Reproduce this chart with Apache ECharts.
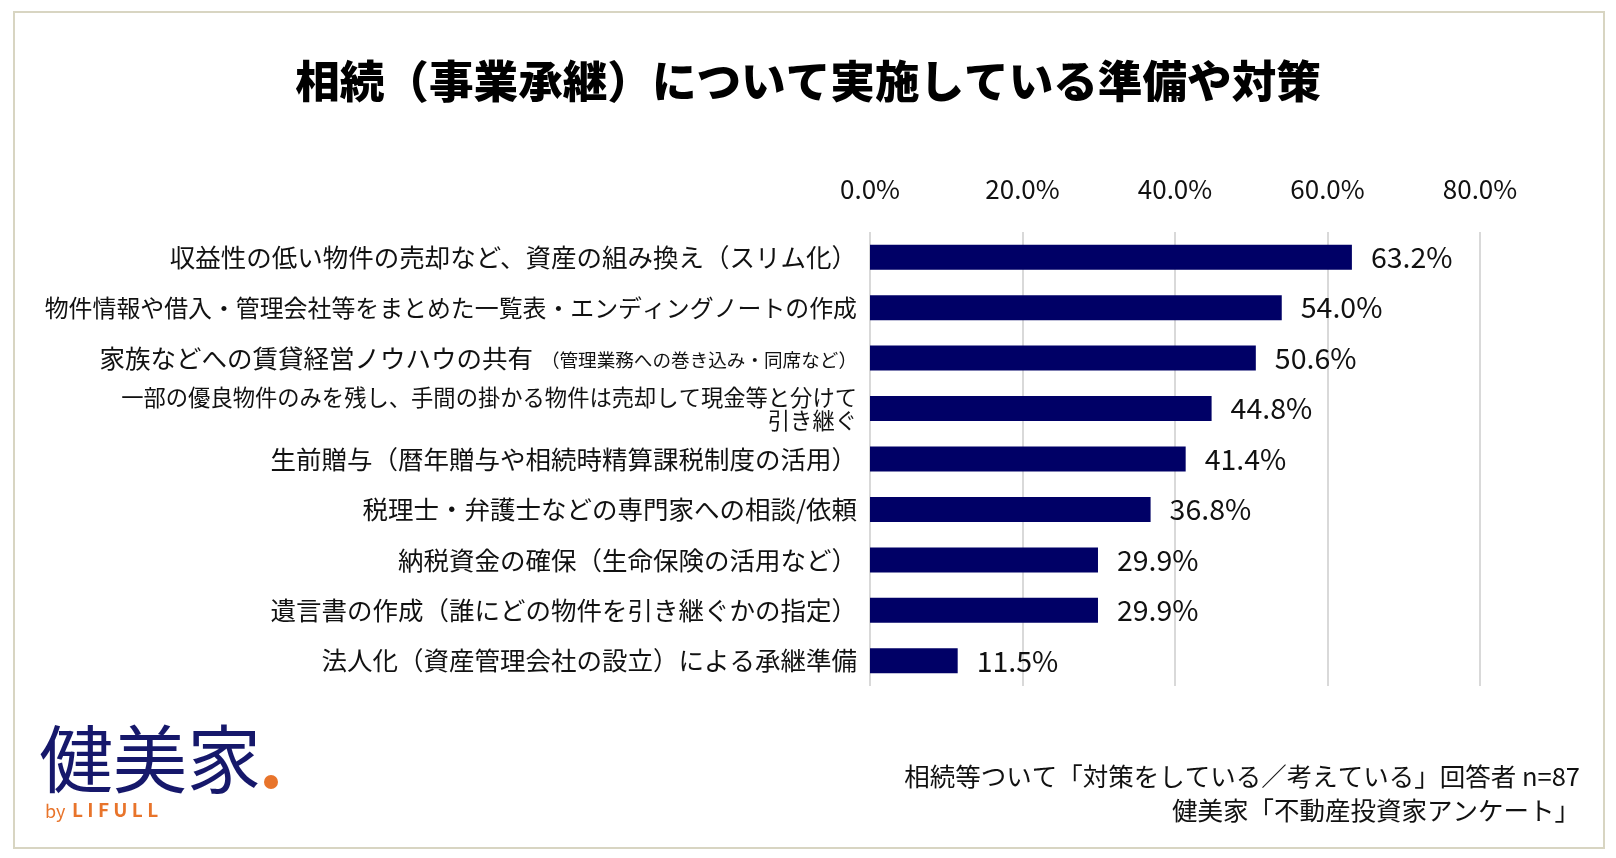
<!DOCTYPE html>
<html>
<head>
<meta charset="utf-8">
<script src="https://cdn.jsdelivr.net/npm/echarts@6/dist/echarts.min.js"></script>
<style>
  html, body { margin: 0; padding: 0; background: #fff; }
  #main { width: 1616px; height: 858px; }
</style>
</head>
<body>
<div id="main"></div>
<script>
// 相続（事業承継）について実施している準備や対策
const categories = [
  '収益性の低い物件の売却など、資産の組み換え（スリム化）',
  '物件情報や借入・管理会社等をまとめた一覧表・エンディングノートの作成',
  '家族などへの賃貸経営ノウハウの共有',
  '一部の優良物件のみを残し、手間の掛かる物件は売却して現金等と分けて\n引き継ぐ',
  '生前贈与（暦年贈与や相続時精算課税制度の活用）',
  '税理士・弁護士などの専門家への相談/依頼',
  '納税資金の確保（生命保険の活用など）',
  '遺言書の作成（誰にどの物件を引き継ぐかの指定）',
  '法人化（資産管理会社の設立）による承継準備'
];
// 補足（小さい文字）
const notes = ['', '', '（管理業務への巻き込み・同席など）', '', '', '', '', '', ''];
const values = [63.2, 54.0, 50.6, 44.8, 41.4, 36.8, 29.9, 29.9, 11.5];
const tickValues = [0, 20, 40, 60, 80];

const FONT = '"Noto Sans CJK JP", "Noto Sans", sans-serif';
const chart = echarts.init(document.getElementById('main'));

const option = {
  backgroundColor: '#fff',
  textStyle: { fontFamily: FONT },
  title: {
    text: '相続（事業承継）について実施している準備や対策',
    left: 'center',
    top: 54,
    textStyle: { fontSize: 44.6, fontWeight: 900, color: '#000', fontFamily: FONT }
  },
  grid: { left: 870, right: 136, top: 232, bottom: 172 },
  xAxis: {
    type: 'value',
    position: 'top',
    min: tickValues[0],
    max: tickValues[tickValues.length - 1],
    interval: 20,
    axisLine: { show: false },
    axisTick: { show: false },
    splitLine: { show: true, lineStyle: { color: '#d9d9d9', width: 2 } },
    axisLabel: {
      margin: 30,
      fontSize: 26,
      color: '#111',
      fontFamily: FONT,
      formatter: v => v.toFixed(1) + '%'
    }
  },
  yAxis: {
    type: 'category',
    inverse: true,
    data: categories,
    axisLine: { show: false },
    axisTick: { show: false },
    axisLabel: {
      margin: 13,
      fontSize: 25.5,
      color: '#111',
      fontFamily: FONT,
      formatter: (v, i) => {
        if (notes[i]) return '{m|' + v + '}{s|' + notes[i] + '}';
        if (v.indexOf('\n') >= 0) return v.split('\n').map(t => '{w|' + t + '}').join('\n');
        if (v.length > 30) return '{n|' + v + '}';
        return v;
      },
      rich: {
        m: { fontSize: 25.5, color: '#111', fontFamily: FONT },
        s: { fontSize: 18.6, color: '#111', fontFamily: FONT, padding: [4, 0, 0, 8] },
        w: { fontSize: 22.3, lineHeight: 23, color: '#111', fontFamily: FONT, align: 'right' },
        n: { fontSize: 23.9, color: '#111', fontFamily: FONT }
      }
    }
  },
  series: [{
    type: 'bar',
    data: values,
    barWidth: 25,
    itemStyle: { color: '#000066' },
    label: {
      show: true,
      position: 'right',
      distance: 19,
      fontSize: 28.5,
      color: '#111',
      fontFamily: FONT,
      formatter: p => p.value.toFixed(1) + '%'
    }
  }],
  graphic: [
    {
      type: 'rect',
      shape: { x: 14, y: 12, width: 1590, height: 836 },
      style: { fill: 'none', stroke: '#d8d5c2', lineWidth: 2 },
      silent: true
    },
    {
      type: 'text', left: 39, top: 722,
      style: { text: '健美家', font: '400 74px ' + FONT, fill: '#16186b' }
    },
    {
      type: 'circle', shape: { cx: 271, cy: 782, r: 7 },
      style: { fill: '#e8742b' }
    },
    {
      type: 'text', left: 45, top: 802,
      style: { text: 'by', font: '400 18px ' + FONT, fill: '#e8742b' }
    },
    {
      type: 'text', left: 72, top: 800,
      style: { text: 'L I F U L L', font: '700 19px ' + FONT, fill: '#e8742b' }
    },
    {
      type: 'text', right: 36, top: 764,
      style: { text: '相続等ついて「対策をしている／考えている」回答者 n=87', font: '400 25.5px ' + FONT, fill: '#111', textAlign: 'right' }
    },
    {
      type: 'text', right: 36, top: 798,
      style: { text: '健美家「不動産投資家アンケート」', font: '400 25.5px ' + FONT, fill: '#111', textAlign: 'right' }
    }
  ]
};

chart.setOption(option);
</script>
</body>
</html>
